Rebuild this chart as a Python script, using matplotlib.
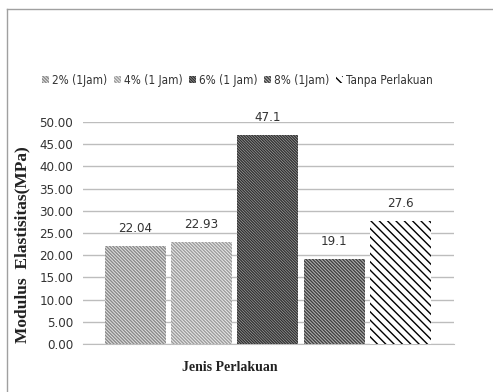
import matplotlib
matplotlib.use("Agg")
import matplotlib.pyplot as plt
from matplotlib.lines import Line2D

# treatment groups and measured modulus values
labels = ["2% (1Jam)", "4% (1 Jam)", "6% (1 Jam)", "8% (1Jam)", "Tanpa Perlakuan"]
values = [22.04, 22.93, 47.1, 19.1, 27.6]
value_text = ["22.04", "22.93", "47.1", "19.1", "27.6"]
yticks = [0, 5, 10, 15, 20, 25, 30, 35, 40, 45, 50]

# fill / hatch styling for each bar
faces = ["#e4e4e4", "#ebebeb", "#b0b0b0", "#b8b8b8", "white"]
hatch_cols = ["#8a8a8a", "#9c9c9c", "#333333", "#404040", "black"]
hatches = ["\\" * 10, "\\" * 10, "\\" * 12, "\\" * 10, "\\" * 4]

plt.rcParams["font.family"] = ["DejaVu Sans"]
plt.rcParams["font.stretch"] = "condensed"
plt.rcParams["hatch.linewidth"] = 1.0

fig = plt.figure(figsize=(4.93, 3.92), dpi=100)
ax = fig.add_axes([0.168, 0.1224, 0.753, 0.5664])

xs = list(range(len(values)))
bars = []
for i in xs:
    b = ax.bar(i, values[i], width=0.92, color=faces[i], edgecolor=hatch_cols[i],
               hatch=hatches[i], linewidth=0, label=labels[i], zorder=3)
    bars.append(b)
    ax.annotate(value_text[i], xy=(i, values[i]), xytext=(0, 8),
                textcoords="offset points", ha="center", va="bottom",
                fontsize=9.5, color="#333333")

ax.set_xlim(-0.79, 4.81)
ax.set_ylim(0, 50)
ax.set_yticks(yticks)
ax.set_yticklabels([f"{t:.2f}" for t in yticks], fontsize=9.5, color="#333333")
ax.set_xticks([])
ax.tick_params(axis="y", length=0, pad=7)
ax.grid(axis="y", color="#bdbdbd", linewidth=1, zorder=0)
for s in ["top", "right", "left"]:
    ax.spines[s].set_visible(False)
ax.spines["bottom"].set_color("#bdbdbd")

# axis titles in bold serif
fig.text(0.045, 0.375, "Modulus  Elastisitas(MPa)", rotation=90, ha="center", va="center",
         fontsize=12.5, fontweight="bold", family="Liberation Serif", color="#222222")
fig.text(0.467, 0.062, "Jenis Perlakuan", ha="center", va="center",
         fontsize=10, fontweight="bold", family="Liberation Serif", color="#222222")

leg = fig.legend(handles=[b[0] for b in bars], labels=labels, loc="center",
                 bbox_to_anchor=(0.481, 0.795), ncol=5, frameon=False, fontsize=8.5,
                 handlelength=0.6, handleheight=0.6, handletextpad=0.25, columnspacing=0.55)
for t in leg.get_texts():
    t.set_color("#333333")

# outer frame lines (top and left)
fig.add_artist(Line2D([7 / 493, 1], [1 - 9 / 392, 1 - 9 / 392], color="#a0a0a0", lw=1))
fig.add_artist(Line2D([7 / 493, 7 / 493], [0, 1 - 9 / 392], color="#a0a0a0", lw=1))

fig.savefig("out.png", dpi=100)
